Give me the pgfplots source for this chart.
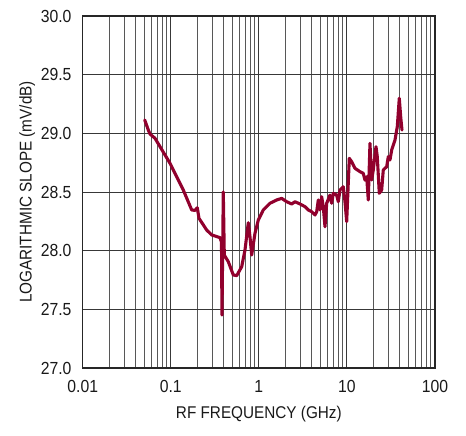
\documentclass[border=0pt]{standalone}
\usepackage{fontspec}
\setmainfont{Liberation Sans}[FakeStretch=0.9]
\usepackage{pgfplots}
\pgfplotsset{compat=1.18}
\definecolor{curve}{RGB}{145,0,45}
\begin{document}
\begin{tikzpicture}
\useasboundingbox (-82.7bp,-68bp) rectangle (383.3bp,368bp);
\begin{axis}[
  at={(0,0)}, anchor=south west,
  width=352.3bp, height=352bp, scale only axis,
  xmode=log, xmin=0.01, xmax=100, ymin=27, ymax=30,
  xtick={0.01,0.1,1,10,100},
  xticklabels={0.01,0.1,1,10,100},
  ytick={27,27.5,28,28.5,29,29.5,30},
  yticklabels={27.0,27.5,28.0,28.5,29.0,29.5,30.0},
  xmajorgrids, xminorgrids, ymajorgrids,
  major grid style={draw=black!78, line width=1bp},
  minor grid style={draw=black!66, line width=1bp},
  major tick length=0pt, minor tick length=0pt,
  axis line style={draw=black!85, line width=1.4bp},
  /pgf/number format/assume math mode=true,
  tick label style={font=\fontsize{17.5bp}{19bp}\selectfont, text=black!90},
  xticklabel style={anchor=north, inner sep=0pt, yshift=-12bp},
  yticklabel style={anchor=east, inner sep=0pt, xshift=-11bp},
  xlabel={RF FREQUENCY (GHz)},
  ylabel={LOGARITHMIC SLOPE (mV/dB)},
  label style={font=\fontsize{17bp}{19bp}\selectfont, text=black!90},
  xlabel style={at={(axis description cs:0.5,0)}, anchor=base, yshift=-50bp},
  ylabel style={at={(axis description cs:-0.1448,0.5)}, anchor=base, rotate=0},
  clip=true,
]
\addplot[curve, line width=3.1bp, line join=round, line cap=round] coordinates {
(0.0506,29.114) (0.0556,29.028) (0.0581,28.994) (0.0662,28.958)
(0.0980,28.745) (0.1387,28.517) (0.1728,28.347) (0.1884,28.343)
(0.2000,28.366) (0.2091,28.276) (0.2557,28.176) (0.2914,28.134)
(0.3620,28.111) (0.3765,28.074) (0.3815,27.452) (0.3948,28.500)
(0.4052,27.963) (0.4498,27.906) (0.5127,27.793) (0.5603,27.787)
(0.6385,27.863) (0.6963,28.006) (0.7589,28.238) (0.7933,28.119)
(0.8292,27.963) (0.9041,28.148) (0.9854,28.261) (1.123,28.347)
(1.338,28.404) (1.594,28.432) (1.816,28.446) (2.071,28.417)
(2.360,28.398) (2.572,28.417) (2.932,28.398) (3.341,28.375)
(3.641,28.347) (3.980,28.332) (4.340,28.304) (4.537,28.332)
(4.731,28.432) (4.944,28.347) (5.168,28.460) (5.390,28.375)
(5.635,28.204) (5.891,28.404) (6.424,28.474) (6.714,28.404)
(7.002,28.489) (7.651,28.474) (7.979,28.417) (8.340,28.517)
(9.093,28.545) (9.506,28.417) (9.938,28.247) (10.64,28.787)
(11.33,28.758) (12.35,28.702) (14.07,28.673) (15.34,28.659)
(16.03,28.602) (16.76,28.630) (17.48,28.432) (18.27,28.915)
(19.10,28.602) (19.92,28.688) (21.38,28.886) (22.12,28.801)
(23.31,28.489) (24.81,28.517) (25.87,28.688) (28.28,28.716)
(29.49,28.801) (30.83,28.773) (32.23,28.858) (35.14,28.943)
(37.32,29.057) (39.31,29.299) (40.78,29.142) (42.19,29.028)
};
\node[anchor=base east, inner sep=0pt, font=\fontsize{9.5bp}{11bp}\selectfont, text=black!85]
  at (axis description cs:1,0) [yshift=-65bp] {5596 G43};
\end{axis}
\end{tikzpicture}
\end{document}
